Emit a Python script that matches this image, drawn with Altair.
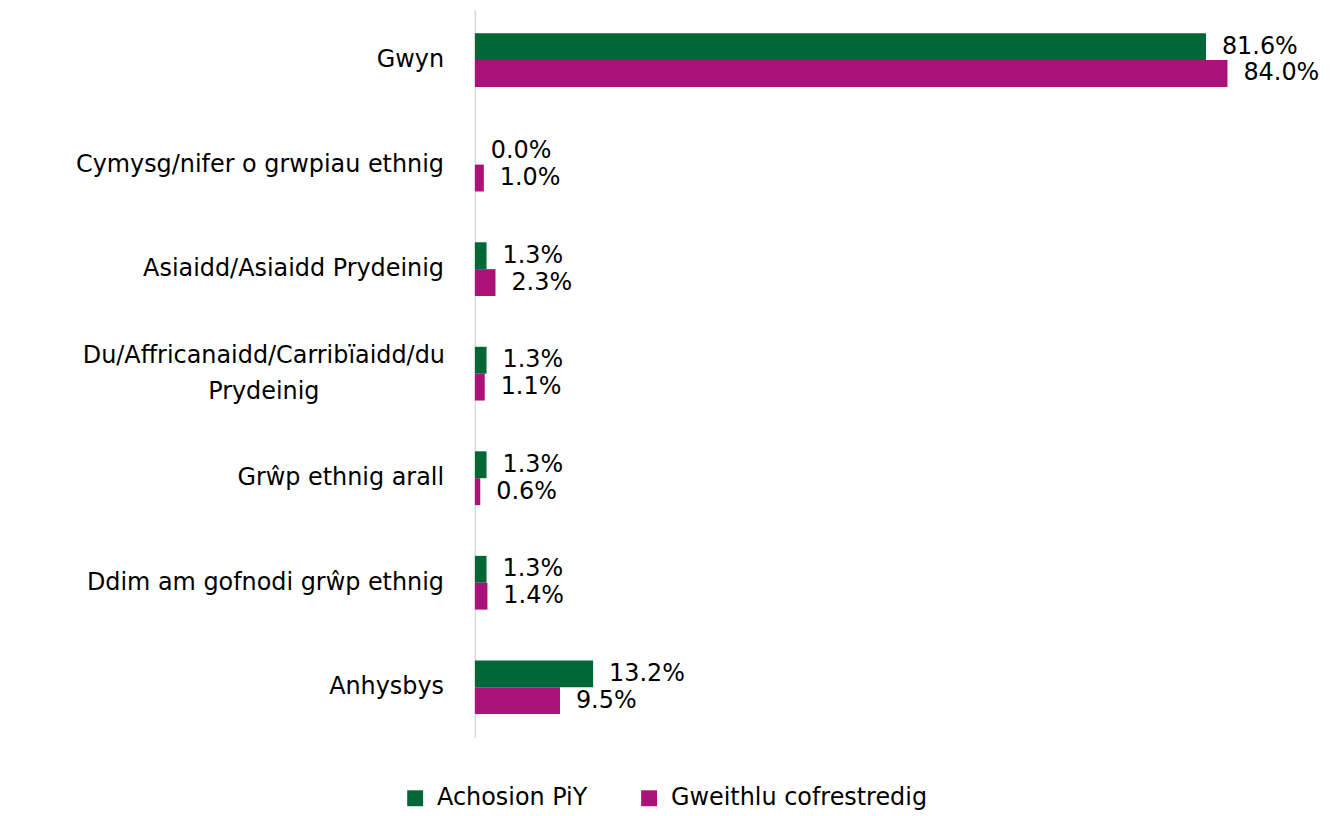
import altair as alt
import pandas as pd

categories = [
    "Gwyn",
    "Cymysg/nifer o grwpiau ethnig",
    "Asiaidd/Asiaidd Prydeinig",
    "Du/Affricanaidd/Carribïaidd/du\nPrydeinig",
    "Grŵp ethnig arall",
    "Ddim am gofnodi grŵp ethnig",
    "Anhysbys",
]
series_names = ["Achosion PiY", "Gweithlu cofrestredig"]
piy_values = [81.6, 0.0, 1.3, 1.3, 1.3, 1.3, 13.2]
workforce_values = [84.0, 1.0, 2.3, 1.1, 0.6, 1.4, 9.5]
colors = ["#006837", "#AA1279"]

FONT = "DejaVu Sans"
FS = 24

rows = []
for c, a, b in zip(categories, piy_values, workforce_values):
    rows.append({"cat": c, "series": series_names[0], "value": a})
    rows.append({"cat": c, "series": series_names[1], "value": b})
df = pd.DataFrame(rows)
cat_df = pd.DataFrame({"cat": categories, "wrapped": ["\n" in c for c in categories]})

y_enc = alt.Y("cat:N", sort=categories,
              scale=alt.Scale(paddingInner=0.486, paddingOuter=0.224),
              axis=alt.Axis(labels=False, ticks=False, title=None, grid=False,
                            domainColor="#d9d9d9", domainWidth=1.5))
x_enc = alt.X("value:Q", scale=alt.Scale(domain=[0, 94]), axis=None)
yoff = alt.YOffset("series:N", sort=series_names, scale=alt.Scale(paddingInner=0, paddingOuter=0))

bars = alt.Chart(df).mark_bar().encode(
    y=y_enc, x=x_enc, yOffset=yoff,
    color=alt.Color("series:N", sort=series_names,
                    scale=alt.Scale(domain=series_names, range=colors),
                    legend=alt.Legend(orient="none", legendX=-72, legendY=780,
                                      direction="horizontal", title=None,
                                      symbolType="square", symbolSize=256,
                                      symbolStrokeWidth=0,
                                      labelFont=FONT, labelFontSize=FS,
                                      labelColor="#000000", labelOffset=10,
                                      labelLimit=500,
                                      columnPadding=49, padding=0)),
)

values = alt.Chart(df).transform_calculate(
    label="format(datum.value, '.1f') + '%'"
).mark_text(align="left", baseline="middle", dx=16, font=FONT, fontSize=FS, color="#000000").encode(
    y=alt.Y("cat:N", sort=categories), x=x_enc, yOffset=yoff, text="label:N",
)

cat_single = alt.Chart(cat_df).transform_filter("!datum.wrapped").mark_text(
    align="right", baseline="middle", font=FONT, fontSize=FS, color="#000000"
).encode(y=alt.Y("cat:N", sort=categories), x=alt.value(-31), text="cat:N")

cat_wrapped = alt.Chart(cat_df).transform_filter("datum.wrapped").mark_text(
    align="center", baseline="middle", font=FONT, fontSize=FS, color="#000000",
    lineBreak="\n", lineHeight=36, dy=-18
).encode(y=alt.Y("cat:N", sort=categories), x=alt.value(-212), text="cat:N")

chart = alt.layer(bars, values, cat_single, cat_wrapped).properties(
    width=846, height=731,
    padding={"left": 469, "top": 0, "right": 17, "bottom": 77},
    autosize=alt.AutoSizeParams(type="none"),
).configure_view(stroke=None)

chart.save("out.html", embed_options={"renderer": "svg", "actions": False})
